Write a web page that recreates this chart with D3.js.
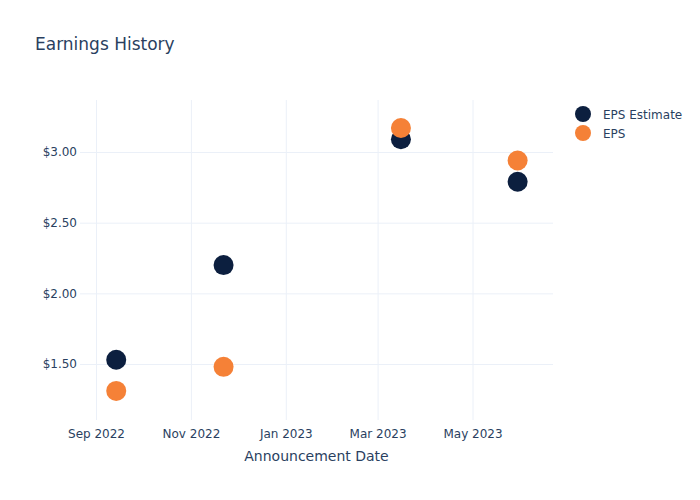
<!DOCTYPE html>
<html><head><meta charset="utf-8">
<script src="https://cdn.jsdelivr.net/npm/d3@7"></script>
<style>body{margin:0;background:#fff;} text{font-family:"DejaVu Sans",sans-serif;}</style>
</head><body>
<svg id="c" width="700" height="500"></svg>
<script>
const dates = ["2022-09-14", "2022-11-22", "2023-03-16", "2023-05-30"];
const epsEstimate = [1.53, 2.20, 3.09, 2.79];
const eps = [1.31, 1.48, 3.17, 2.94];
const yTicks = [1.5, 2.0, 2.5, 3.0];
const xTicks = ["2022-09-01", "2022-11-01", "2023-01-01", "2023-03-01", "2023-05-01"];
const seriesNames = ["EPS Estimate", "EPS"];
const colors = ["#0c1f3f", "#f58137"];

const parse = d3.timeParse("%Y-%m-%d");
const svg = d3.select("#c");
const m = {l: 80, r: 147, t: 100, b: 80};
const W = 700, H = 500;
// calibrate x domain so that the tick dates fall where the reference puts them
const cal = d3.scaleTime().domain([parse("2022-09-01"), parse("2023-05-01")]).range([96, 472.5]);
const x = d3.scaleTime().domain([cal.invert(m.l), cal.invert(W - m.r)]).range([m.l, W - m.r]);
const y = d3.scaleLinear().domain([1.104, 3.368]).range([H - m.b, m.t]);
const txt = "#2a3f5f", grid = "#ebf0f8";

svg.append("text").attr("x", 35).attr("y", 50).attr("font-size", 17).attr("fill", txt).text("Earnings History");

const gx = svg.append("g").attr("transform", `translate(0,${H - m.b})`)
  .call(d3.axisBottom(x).tickValues(xTicks.map(parse)).tickFormat(d3.timeFormat("%b %Y")).tickSize(-(H - m.t - m.b)).tickPadding(9));
gx.select(".domain").remove();
gx.selectAll("line").attr("stroke", grid);
gx.selectAll("text").attr("fill", txt).attr("font-size", 12);

const gy = svg.append("g").attr("transform", `translate(${m.l},0)`)
  .call(d3.axisLeft(y).tickValues(yTicks).tickFormat(d => "$" + d3.format(".2f")(d)).tickSize(-(W - m.l - m.r)).tickPadding(3));
gy.select(".domain").remove();
gy.selectAll("line").attr("stroke", grid);
gy.selectAll("text").attr("fill", txt).attr("font-size", 12);

svg.append("text").attr("x", (m.l + W - m.r) / 2).attr("y", 461).attr("text-anchor", "middle")
  .attr("font-size", 14).attr("fill", txt).text("Announcement Date");

[epsEstimate, eps].forEach((vals, i) => {
  svg.append("g").selectAll("circle").data(vals).join("circle")
    .attr("cx", (d, j) => x(parse(dates[j]))).attr("cy", d => y(d)).attr("r", 10)
    .attr("fill", colors[i]);
});

const lg = svg.append("g");
seriesNames.forEach((n, i) => {
  lg.append("circle").attr("cx", 583).attr("cy", 114 + i * 19).attr("r", 8).attr("fill", colors[i]);
  lg.append("text").attr("x", 603).attr("y", 118.5 + i * 19).attr("font-size", 12).attr("fill", txt).text(n);
});
</script>
</body></html>
